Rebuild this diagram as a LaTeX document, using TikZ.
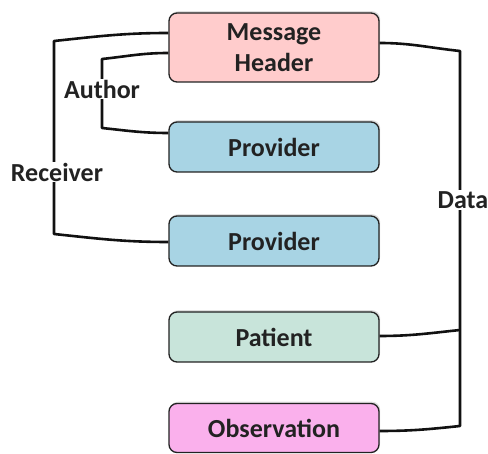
\documentclass[tikz,border=0pt]{standalone}
\usepackage{fontspec}
\setmainfont{Carlito}
\usetikzlibrary{shadows}

\tikzset{every picture/.style={line width=0.75pt}}
\tikzset{
  box/.style={draw={rgb,255:red,34;green,34;blue,34}, line width=1.3pt, rounded corners=8pt,
    minimum width=210pt, align=center, text={rgb,255:red,34;green,34;blue,34},
    font=\bfseries\fontsize{26}{31}\selectfont,
    drop shadow={shadow xshift=1.2pt, shadow yshift=1.8pt, opacity=0.25}},
  wire/.style={draw={rgb,255:red,17;green,17;blue,17}, line width=2.6pt, line join=round},
  tag/.style={fill=white, inner sep=1pt, text={rgb,255:red,34;green,34;blue,34},
    font=\bfseries\fontsize{26}{31}\selectfont}
}

\begin{document}
\begin{tikzpicture}[x=1pt,y=1pt,yscale=-1,xscale=1]
  \useasboundingbox (0,0) rectangle (488,454);

  %Shape: Boxes
  \node[box, fill={rgb,255:red,255;green,204;blue,204}, minimum height=69pt, inner sep=0pt] (mh) at (274,47.5) {Message\\Header};
  \node[box, fill={rgb,255:red,168;green,212;blue,228}, minimum height=50pt] (pv1) at (274,147) {Provider};
  \node[box, fill={rgb,255:red,168;green,212;blue,228}, minimum height=50pt] (pv2) at (274,241) {Provider};
  \node[box, fill={rgb,255:red,200;green,228;blue,218}, minimum height=50pt] (pt) at (274,337) {Patient};
  \node[box, fill={rgb,255:red,250;green,176;blue,236}, minimum height=49pt] (obs) at (274,428) {Observation};

  %Corners of the connectors
  \coordinate (rcvA) at (54,41);
  \coordinate (rcvB) at (54,234);
  \coordinate (autA) at (102,59);
  \coordinate (autB) at (102,128);
  \coordinate (datA) at (460,51);
  \coordinate (datB) at (460,330);
  \coordinate (datC) at (460,426);

  %Curved Lines
  \draw[wire] ([yshift=-14.5pt]mh.west) to[out=180,in=-6] (rcvA) -- (rcvB) to[out=6,in=180] ([yshift=1pt]pv2.west);
  \draw[wire] ([yshift=5.5pt]mh.west) to[out=180,in=-6] (autA) -- (autB) to[out=6,in=180] ([yshift=-14pt]pv1.west);
  \draw[wire] ([yshift=-4.5pt]mh.east) to[out=0,in=186] (datA) -- (datC) to[out=174,in=0] ([yshift=3pt]obs.east);
  \draw[wire] ([yshift=-1pt]pt.east) to[out=0,in=174] (datB);

  % Text Node
  \node[tag] (rcv) at (57,172) {Receiver};
  % Text Node
  \node[tag] (aut) at (102,89) {Author};
  % Text Node
  \node[tag] (dat) at (463,200) {Data};
\end{tikzpicture}
\end{document}
